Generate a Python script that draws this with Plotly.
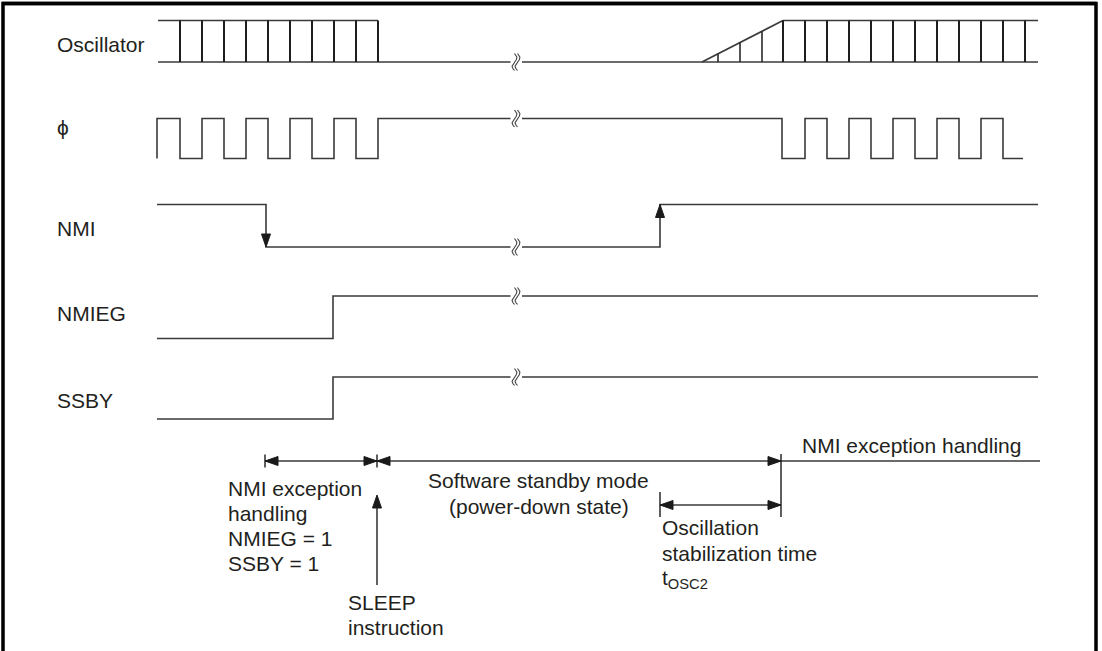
import numpy as np
import plotly.graph_objects as go

W, H = 1102, 651

# ---------------- data (positions along the time axis) ----------------
signal_labels = ["Oscillator", "ϕ", "NMI", "NMIEG", "SSBY"]
label_y = [44, 127, 228, 313, 400]
lane_high = [20.5, 118.5, 204.5, 296, 377]
lane_low = [62, 158.5, 247, 338.5, 419]

t_start = 157
t_end = 1038
break_t = 516
break_gap = [510.5, 522]

osc_edges_before = [180, 202, 224, 246, 268, 290, 312, 334, 356, 378]
osc_ramp_start = 702
osc_ramp_edges = [718, 740, 762]
osc_edges_after = [783, 805, 827, 849, 871, 893, 915, 937, 959, 981, 1003, 1025]

phi_edges_before = [180, 202, 224, 246, 268, 290, 312, 334, 356, 378]
phi_edges_after = [782, 805, 827, 849, 871, 893, 915, 937, 959, 981, 1003]
phi_end = 1023

nmi_fall_t = 266
nmi_rise_t = 660
nmieg_rise_t = 333
ssby_rise_t = 333

phase_y = 461
phase_bounds = [265, 377, 781]
osc_stab_y = 505
osc_stab_start = 660
sleep_arrow_bottom = 585

LINE = "#3a3a3a"
TXT = "#231f20"
FONT = "Liberation Sans, Arial, Helvetica, sans-serif"
FS = 21

fig = go.Figure()


def add_line(xs, ys, width=1.6, color=LINE):
    fig.add_trace(go.Scatter(x=xs, y=ys, mode="lines",
                             line=dict(color=color, width=width),
                             hoverinfo="skip", showlegend=False, cliponaxis=False))


def square(x0, lo, hi, start_high, edges, x1):
    xs, ys = [x0], [hi if start_high else lo]
    level = start_high
    for e in edges:
        xs += [e, e]
        ys += [hi if level else lo, lo if level else hi]
        level = not level
    xs.append(x1)
    ys.append(hi if level else lo)
    return xs, ys


def tri(tx, ty, direction, L=13, hw=4.5):
    dx, dy = {"left": (-1, 0), "right": (1, 0), "up": (0, -1), "down": (0, 1)}[direction]
    bx, by = tx - dx * L, ty - dy * L
    px, py = -dy, dx
    xs = [tx, bx + px * hw, bx - px * hw, tx]
    ys = [ty, by + py * hw, by - py * hw, ty]
    fig.add_trace(go.Scatter(x=xs, y=ys, mode="lines", fill="toself",
                             fillcolor="#1a1a1a", line=dict(color="#1a1a1a", width=1),
                             hoverinfo="skip", showlegend=False))


def brk(cx, cy):
    t = np.linspace(0, 1, 40)
    for off in (-1.5, 1.5):
        xs = cx + off + 2.4 * np.sin(2 * np.pi * t)
        ys = cy - 8.5 + 17 * t
        add_line(list(xs), list(ys), width=1.1, color="#444444")


# ---------------- Oscillator ----------------
hi, lo = lane_high[0], lane_low[0]
add_line([t_start + 1, osc_edges_before[-1]], [hi, hi])
add_line([t_start + 1, break_gap[0]], [lo, lo])
add_line([break_gap[1], t_end], [lo, lo])
for e in osc_edges_before:
    add_line([e, e], [lo, hi], width=2.0, color="#1e1e1e")
ramp_end = osc_edges_after[0]
add_line([osc_ramp_start, ramp_end], [lo, hi])
for e in osc_ramp_edges:
    yr = lo + (hi - lo) * (e - osc_ramp_start) / (ramp_end - osc_ramp_start)
    add_line([e, e], [lo, yr], width=1.6, color="#2a2a2a")
add_line([ramp_end, t_end], [hi, hi])
for e in osc_edges_after:
    add_line([e, e], [lo, hi], width=2.0, color="#1e1e1e")
brk(break_t, lo)

# ---------------- phi ----------------
hi, lo = lane_high[1], lane_low[1]
xs, ys = square(t_start, lo, hi, True, phi_edges_before, break_gap[0])
add_line([t_start] + xs, [lo] + ys)
xs, ys = square(break_gap[1], lo, hi, True, phi_edges_after, phi_end)
add_line(xs, ys)
brk(break_t, hi)

# ---------------- NMI ----------------
hi, lo = lane_high[2], lane_low[2]
xs, ys = square(t_start, lo, hi, True, [nmi_fall_t], break_gap[0])
add_line(xs, ys)
xs, ys = square(break_gap[1], lo, hi, False, [nmi_rise_t], t_end)
add_line(xs, ys)
tri(nmi_fall_t, lo, "down")
tri(nmi_rise_t, hi, "up")
brk(break_t, lo)

# ---------------- NMIEG / SSBY ----------------
for idx, rise in ((3, nmieg_rise_t), (4, ssby_rise_t)):
    hi, lo = lane_high[idx], lane_low[idx]
    xs, ys = square(t_start, lo, hi, False, [rise], break_gap[0])
    add_line(xs, ys)
    add_line([break_gap[1], t_end], [hi, hi])
    brk(break_t, hi)

# ---------------- phase timeline ----------------
a, b, c = phase_bounds
add_line([a, c], [phase_y, phase_y], width=1.6)
add_line([c, t_end + 2], [phase_y, phase_y], width=1.6)
add_line([a, a], [phase_y - 6.5, phase_y + 6.5], width=1.4, color="#1a1a1a")
add_line([b, b], [phase_y - 6.5, phase_y + 6.5], width=1.4, color="#1a1a1a")
add_line([c, c], [phase_y - 7, osc_stab_y + 12], width=1.4, color="#1a1a1a")
tri(a, phase_y, "left")
tri(b, phase_y, "right")
tri(b, phase_y, "left")
tri(c, phase_y, "right")

# oscillation stabilization
add_line([osc_stab_start, c], [osc_stab_y, osc_stab_y], width=1.6)
add_line([osc_stab_start, osc_stab_start], [osc_stab_y - 13, osc_stab_y + 12],
         width=1.4, color="#1a1a1a")
tri(osc_stab_start, osc_stab_y, "left")
tri(c, osc_stab_y, "right")

# SLEEP arrow
add_line([b, b], [sleep_arrow_bottom, phase_y + 40], width=1.6)
tri(b, phase_y + 34, "up")

# ---------------- border ----------------
add_line([3, 3, 1096, 1096], [H + 5, 3.5, 3.5, H + 5], width=3.5, color="black")
fig.add_shape(type="line", xref="paper", yref="paper", x0=0.002, x1=0.995,
              y0=0.9946, y1=0.9946, line=dict(color="black", width=3.5), layer="above")

# ---------------- text ----------------
def txt(x, y, s, anchor="left"):
    fig.add_annotation(x=x, y=y, text=s, showarrow=False, xanchor=anchor,
                       yanchor="middle", font=dict(family=FONT, size=FS, color=TXT))


for lab, ly in zip(signal_labels, label_y):
    txt(55, ly, lab)

txt(226, 488, "NMI exception")
txt(226, 513, "handling")
txt(226, 538, "NMIEG = 1")
txt(226, 563, "SSBY = 1")
txt(346, 602, "SLEEP")
txt(346, 627, "instruction")
txt(538.5, 480, "Software standby mode", "center")
txt(538.5, 506, "(power-down state)", "center")
txt(660, 527, "Oscillation")
txt(660, 553, "stabilization time")
txt(660, 579, "t<sub>OSC2</sub>")
txt(800, 445, "NMI exception handling")

fig.update_layout(
    width=W, height=H,
    margin=dict(l=0, r=0, t=0, b=0),
    paper_bgcolor="white", plot_bgcolor="white",
    xaxis=dict(range=[0, W], visible=False, fixedrange=True),
    yaxis=dict(range=[H, 0], visible=False, fixedrange=True),
    showlegend=False,
)

fig.write_html(
    "out.html",
    config={"displayModeBar": False},
    post_script="document.body.style.margin='0';document.body.style.overflow='hidden';",
)
